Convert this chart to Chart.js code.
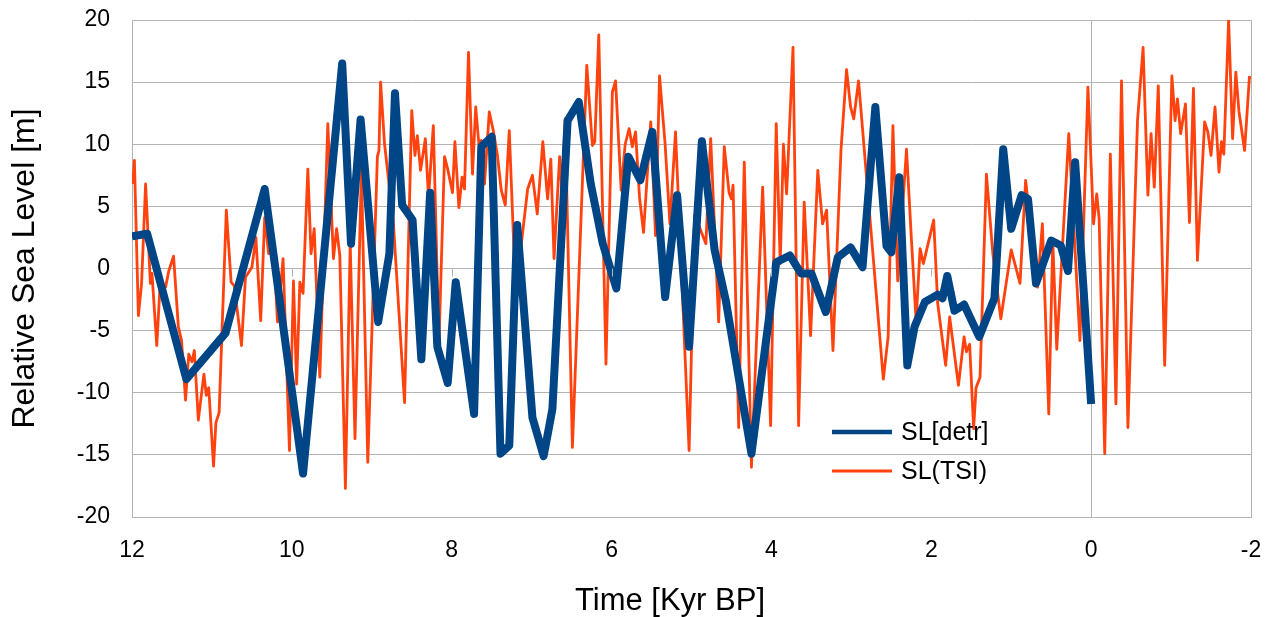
<!DOCTYPE html>
<html>
<head>
<meta charset="utf-8">
<script src="https://cdn.jsdelivr.net/npm/chart.js@4"></script>
<style>
  body { margin: 0; background: #fff; }
  #wrap { width: 1271px; height: 617px; position: relative; }
</style>
</head>
<body>
<div id="wrap"><canvas id="graph"></canvas></div>
<script>
// SL[detr] - thick blue line
var detrTime = [12.00, 11.81, 11.32, 10.83, 10.34, 9.86, 9.37, 9.26, 9.14, 8.92, 8.78, 8.71, 8.62, 8.49, 8.38, 8.27, 8.18, 8.05, 7.95,
  7.72, 7.63, 7.50, 7.39, 7.28, 7.18, 6.99, 6.85, 6.74, 6.55, 6.41, 6.26, 6.11, 5.94, 5.79, 5.64, 5.49, 5.33, 5.18, 5.03,
  4.87, 4.71, 4.57, 4.25, 3.94, 3.77, 3.63, 3.50, 3.32, 3.17, 3.01, 2.86, 2.70, 2.56, 2.50, 2.40, 2.30, 2.21, 2.08, 1.92,
  1.86, 1.80, 1.71, 1.59, 1.40, 1.21, 1.10, 1.00, 0.87, 0.79, 0.69, 0.50, 0.38, 0.29, 0.20, 0.00];
var detrLevel = [2.6, 2.8, -8.9, -5.2, 6.4, -16.5, 16.5, 2.0, 12.0, -4.3, 1.2, 14.1, 5.1, 3.9, -7.3, 6.1, -6.3, -9.2, -1.1,
  -11.7, 9.8, 10.6, -14.9, -14.25, 3.5, -12.0, -15.1, -11.3, 11.9, 13.4, 6.8, 2.0, -1.6, 9.0, 7.1, 11.0, -2.3, 5.9, -6.3,
  10.25, 1.45, -2.6, -14.9, 0.5, 1.05, -0.4, -0.4, -3.5, 0.9, 1.7, 0.1, 13.0, 1.8, 1.3, 7.35, -7.8, -4.7, -2.7, -2.1,
  -2.4, -0.6, -3.4, -2.9, -5.5, -2.4, 9.6, 3.2, 5.9, 5.6, -1.2, 2.25, 1.85, -0.2, 8.55, -10.9];

// SL(TSI) - thin orange line
var tsiTime = [11.99, 11.97, 11.92, 11.88, 11.83, 11.77, 11.75, 11.69, 11.65, 11.58, 11.54, 11.48, 11.42, 11.38, 11.33, 11.29,
  11.25, 11.22, 11.17, 11.10, 11.07, 11.04, 10.98, 10.95, 10.91, 10.82, 10.76, 10.72, 10.63, 10.58, 10.50, 10.45, 10.39,
  10.34, 10.29, 10.23, 10.18, 10.11, 10.03, 9.98, 9.94, 9.90, 9.86, 9.80, 9.76, 9.72, 9.65, 9.55, 9.48, 9.44, 9.40, 9.33,
  9.27, 9.21, 9.13, 9.05, 8.93, 8.91, 8.89, 8.84, 8.73, 8.59, 8.50, 8.46, 8.43, 8.39, 8.33, 8.29, 8.23, 8.16, 8.09, 8.05,
  7.99, 7.96, 7.91, 7.87, 7.84, 7.79, 7.74, 7.70, 7.66, 7.63, 7.59, 7.53, 7.48, 7.43, 7.38, 7.33, 7.28, 7.20, 7.05, 6.99,
  6.93, 6.86, 6.80, 6.76, 6.72, 6.65, 6.62, 6.58, 6.49, 6.31, 6.24, 6.21, 6.16, 6.07, 5.99, 5.95, 5.88, 5.83, 5.78, 5.74,
  5.70, 5.65, 5.60, 5.51, 5.45, 5.40, 5.33, 5.27, 5.20, 5.03, 4.96, 4.82, 4.76, 4.66, 4.59, 4.53, 4.50, 4.48, 4.41, 4.34,
  4.25, 4.11, 4.01, 3.94, 3.89, 3.85, 3.81, 3.73, 3.66, 3.59, 3.51, 3.42, 3.36, 3.31, 3.23, 3.13, 3.06, 3.01, 2.97, 2.91,
  2.60, 2.54, 2.48, 2.42, 2.31, 2.25, 2.19, 2.14, 2.10, 2.08, 1.97, 1.92, 1.82, 1.77, 1.66, 1.59, 1.56, 1.52, 1.47, 1.44,
  1.39, 1.31, 1.23, 1.13, 1.00, 0.89, 0.82, 0.67, 0.61, 0.53, 0.48, 0.43, 0.28, 0.14, 0.04, -0.03, -0.07, -0.10, -0.17,
  -0.24, -0.31, -0.38, -0.46, -0.58, -0.65, -0.71, -0.75, -0.79, -0.84, -0.92, -1.01, -1.05, -1.08, -1.12, -1.18, -1.23,
  -1.28, -1.33, -1.42, -1.46, -1.50, -1.55, -1.60, -1.63, -1.66, -1.72, -1.77, -1.81, -1.85, -1.92, -1.98, -2.00];
var tsiLevel = [6.8, 8.7, -3.8, -1.2, 6.8, -1.2, -0.4, -6.2, -1.5, -1.5, -0.2, 1.0, -4.7, -5.8, -10.6, -6.9,
  -7.5, -6.6, -12.2, -8.5, -10.2, -9.6, -15.9, -12.4, -11.6, 4.7, -1.1, -1.4, -6.2, -0.7, 0.1, 2.5, -4.2,
  4.1, 1.2, 2.0, -4.3, 0.8, -14.65, -1.0, -9.3, -1.1, -2.0, 8.0, 1.2, 3.2, -8.75, 11.65, 0.8, 3.2, 1.05, -17.7,
  2.0, -13.7, 8.0, -15.6, 9.0, 9.5, 15.0, 10.0, 3.7, -10.8, 12.7, 9.1, 10.7, 7.9, 10.45, 5.7, 11.5, -6.0, 9.0, 8.0,
  6.1, 10.2, 4.9, 7.35, 6.4, 17.4, 7.6, 13.0, 10.0, 10.3, 6.8, 12.6, 11.1, 9.2, 6.3, 5.1, 11.1, -2.0, 6.4, 7.5,
  4.4, 10.2, 5.6, 8.8, 0.8, 9.0, 6.3, 12.05, -14.4, 16.35, 9.9, 10.2, 18.8, -7.7, 14.2, 15.1, 6.3, 10.0, 11.25, 9.8,
  11.0, 5.7, 2.9, 11.8, 2.65, 15.5, 10.0, 3.6, 11.0, -14.65, 4.3, 2.0, 10.45, -4.3, 9.8, 6.1, 5.6, 6.7, -12.8, 8.55,
  -16.0, 6.55, -12.65, 11.65, 0.4, 10.0, 6.0, 17.8, -12.65, 5.35, -5.4, 7.9, 3.6, 4.7, -6.6, 9.5, 16.0, 13.0, 12.05, 15.1,
  -8.9, -5.5, 11.5, -1.0, 9.6, 2.5, -4.2, 1.6, 0.4, 0.9, 3.9, -2.8, -7.8, -3.9, -9.4, -5.5, -6.7, -6.1, -12.9, -9.6,
  -8.75, 7.6, 1.2, -4.05, 1.5, -1.2, 7.1, -1.5, 3.6, -11.7, 2.25, -6.5, 10.85, -5.8, 14.6, 3.6, 6.0, 4.0, -14.9,
  9.2, -10.9, 15.1, -12.8, 11.9, 17.8, 5.9, 10.85, 6.55, 14.7, -7.8, 15.5, 11.9, 13.65, 10.85, 13.25, 3.7,
  14.5, 0.65, 11.8, 11.0, 9.1, 13.0, 7.75, 10.2, 9.2, 20.0, 10.45, 15.8, 12.6, 9.5, 15.4, 15.3];

var seriesNames = ["SL[detr]", "SL(TSI)"];
var seriesColors = ["#004586", "#ff420e"];
var xTitle = "Time [Kyr BP]";
var gridGray = "#b3b3b3";

Chart.defaults.font.family = '"Liberation Sans", Arial, sans-serif';
Chart.defaults.color = "#000";

function toPoints(xs, ys) {
  return xs.map(function (x, i) {
    return { x: x, y: ys[i] };
  });
}

// legend inside the plot, x title, tick marks on the zero line
var decor = {
  id: "decor",
  afterDraw: function (chart) {
    var ctx = chart.ctx;
    var a = chart.chartArea;
    var xs = chart.scales.x;
    var ys = chart.scales.y;
    var y0 = ys.getPixelForValue(0);
    ctx.save();
    ctx.strokeStyle = gridGray;
    ctx.lineWidth = 1;
    for (var v = 12; v >= -2; v -= 2) {
      var px = Math.round(xs.getPixelForValue(v)) + 0.5;
      ctx.beginPath();
      ctx.moveTo(px, y0);
      ctx.lineTo(px, y0 + 8);
      ctx.stroke();
    }
    var lx = a.left + 700;
    var widths = [4.5, 2.8];
    var rows = [a.top + 412, a.top + 451];
    ctx.font = '25px "Liberation Sans", Arial, sans-serif';
    ctx.textBaseline = "middle";
    ctx.fillStyle = "#000";
    for (var i = 0; i < 2; i++) {
      ctx.strokeStyle = seriesColors[i];
      ctx.lineWidth = widths[i];
      ctx.beginPath();
      ctx.moveTo(lx, rows[i]);
      ctx.lineTo(lx + 60, rows[i]);
      ctx.stroke();
      ctx.fillText(seriesNames[i], lx + 69, rows[i] + 1);
    }
    ctx.font = '31px "Liberation Sans", Arial, sans-serif';
    ctx.textAlign = "center";
    ctx.fillText(xTitle, a.left + 538, a.bottom + 84);
    ctx.restore();
  },
};

var ctx = document.getElementById("graph").getContext("2d");
var chart = new Chart(ctx, {
  type: "line",
  data: {
    datasets: [
      {
        label: seriesNames[0],
        data: toPoints(detrTime, detrLevel),
        borderColor: seriesColors[0],
        borderWidth: 8,
        borderJoinStyle: "round",
        pointRadius: 0,
        tension: 0,
      },
      {
        label: seriesNames[1],
        data: toPoints(tsiTime, tsiLevel),
        borderColor: seriesColors[1],
        borderWidth: 2.8,
        borderJoinStyle: "round",
        pointRadius: 0,
        tension: 0,
      },
    ],
  },
  options: {
    responsive: true,
    maintainAspectRatio: false,
    animation: false,
    layout: { padding: { top: 20, right: 20, left: 0, bottom: 0 } },
    plugins: { legend: { display: false }, tooltip: { enabled: false } },
    scales: {
      x: {
        type: "linear",
        reverse: true,
        min: -2,
        max: 12,
        ticks: { stepSize: 2, padding: 20, maxRotation: 0, font: { size: 23 } },
        grid: {
          drawTicks: false,
          color: function (c) {
            var v = c.tick ? c.tick.value : null;
            return v === 12 || v === 0 || v === -2 ? gridGray : "rgba(0,0,0,0)";
          },
        },
        border: { color: gridGray },
        afterFit: function (s) {
          s.height = 100;
          s.paddingLeft = 0;
          s.paddingRight = 0;
        },
      },
      y: {
        min: -20,
        max: 20,
        ticks: { stepSize: 5, padding: 22, font: { size: 23 } },
        grid: { color: gridGray, drawTicks: false },
        border: { color: gridGray },
        title: { display: true, text: "Relative Sea Level [m]", font: { size: 32 }, padding: { top: 6, bottom: 0 } },
        afterFit: function (s) {
          s.width = 132;
          s.paddingTop = 0;
          s.paddingBottom = 0;
        },
      },
    },
  },
  plugins: [decor],
});
</script>
</body>
</html>
